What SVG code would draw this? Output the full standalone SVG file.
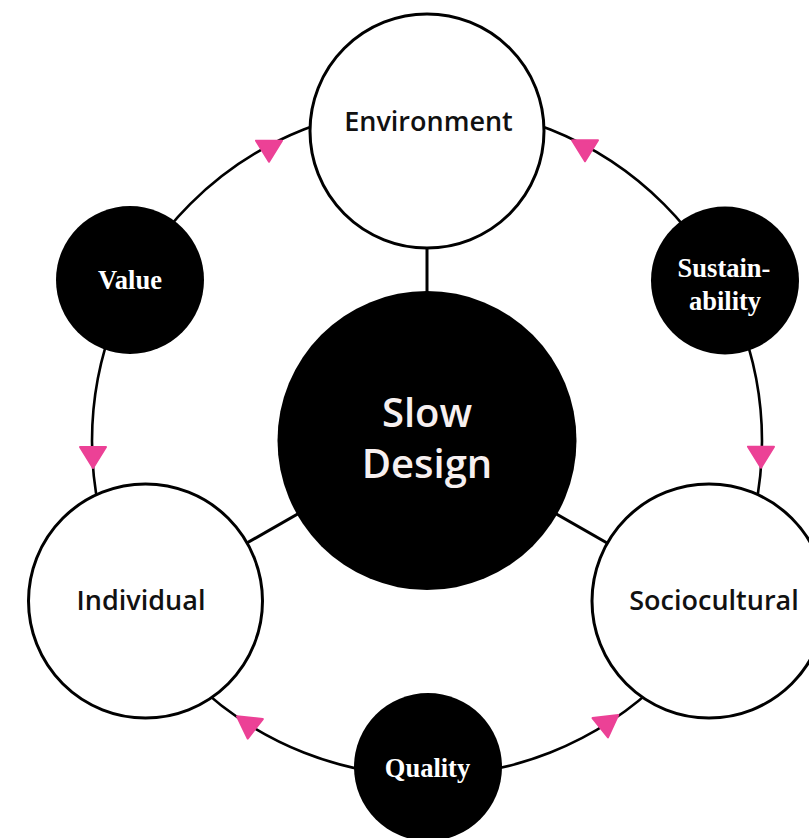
<svg xmlns="http://www.w3.org/2000/svg" width="809" height="838" viewBox="0 0 809 838">
<style>
.ring{fill:none;stroke:#000;stroke-width:2.6}
.spoke{stroke:#000;stroke-width:3}
.big{fill:#fff;stroke:#000;stroke-width:3}
.dark{fill:#000}
.sans{font-family:"Open Sans",Lato,sans-serif;font-weight:600;fill:#111;text-anchor:middle}
.center{font-family:"Open Sans",Lato,sans-serif;font-weight:600;fill:#f7f0f0;text-anchor:middle;font-size:40px}
.serif{font-family:"Liberation Serif",serif;font-weight:700;fill:#fff;text-anchor:middle;font-size:26.5px}
.arr{fill:#ec4196;stroke:#ec4196;stroke-width:2;stroke-linejoin:round}
</style>
<defs>
<polygon id="tri" points="-13,1 13,1 0,22"/>
</defs>
<rect width="809" height="838" fill="#fff"/>
<g id="connectors">
<circle class="ring" cx="427" cy="441" r="335"/>
<line class="spoke" x1="427" y1="440" x2="427" y2="131"/>
<line class="spoke" x1="427" y1="440" x2="145.5" y2="601"/>
<line class="spoke" x1="427" y1="440" x2="708.5" y2="601"/>
<use href="#tri" class="arr" transform="translate(269,139.7)"/>
<use href="#tri" class="arr" transform="translate(585,139.3)"/>
<use href="#tri" class="arr" transform="translate(93,446)"/>
<use href="#tri" class="arr" transform="translate(761,445.7)"/>
<use href="#tri" class="arr" transform="translate(250,716.7) rotate(6)"/>
<use href="#tri" class="arr" transform="translate(605.3,715.5) rotate(-7)"/>
</g>
<g id="environment">
<circle class="big" cx="427" cy="131" r="117"/>
<text class="sans" x="428.5" y="131" font-size="27">Environment</text>
</g>
<g id="individual">
<circle class="big" cx="145.5" cy="601" r="117"/>
<text class="sans" x="141" y="610" font-size="27">Individual</text>
</g>
<g id="sociocultural">
<circle class="big" cx="709" cy="601" r="117"/>
<text class="sans" x="714" y="610" font-size="27">Sociocultural</text>
</g>
<g id="slow-design">
<circle class="dark" cx="427" cy="440.5" r="149.5"/>
<text class="center" x="427" y="427">Slow</text>
<text class="center" x="427" y="478">Design</text>
</g>
<g id="value">
<circle class="dark" cx="130" cy="280" r="74"/>
<text class="serif" x="130" y="289">Value</text>
</g>
<g id="sustainability">
<circle class="dark" cx="725" cy="280.5" r="74"/>
<text class="serif" x="724" y="277">Sustain-</text>
<text class="serif" x="725" y="310">ability</text>
</g>
<g id="quality">
<circle class="dark" cx="428" cy="767" r="74"/>
<text class="serif" x="427.5" y="777">Quality</text>
</g>
</svg>
